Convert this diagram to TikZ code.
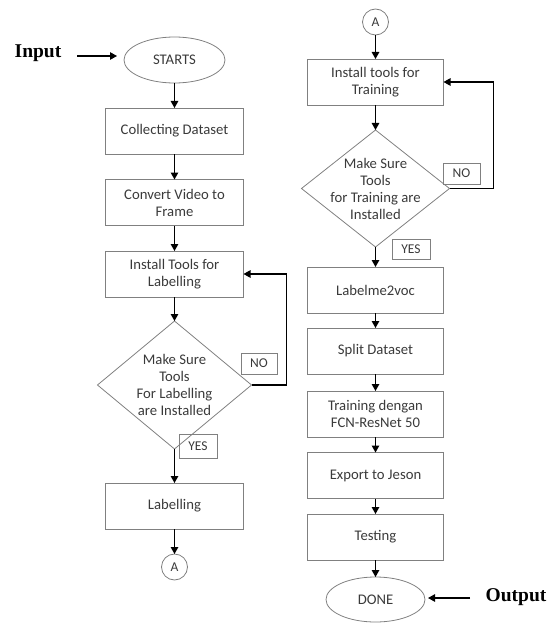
\documentclass[tikz,border=0pt]{standalone}
\usepackage{fontspec}
\setmainfont{Carlito}
\newfontfamily\serifbold{Liberation Serif}
\usetikzlibrary{shapes.geometric,arrows.meta}
\definecolor{txtgray}{HTML}{3A3A3A}
\begin{document}
\begin{tikzpicture}[x=1pt,y=-1pt,
  every node/.style={inner sep=0pt, outer sep=0pt},
  boxtext/.style={text=txtgray, align=center, font=\fontsize{14.7}{17}\selectfont},
  stepbox/.style={boxtext, draw=black!50, line width=0.8pt, minimum height=46pt},
  lbox/.style={stepbox, minimum width=138pt},
  rbox/.style={stepbox, minimum width=136pt},
  term/.style={boxtext, ellipse, draw=black!50, line width=0.8pt},
  decis/.style={diamond, draw=black!50, line width=0.8pt},
  tag/.style={text=txtgray, draw=black!50, line width=0.8pt, font=\fontsize{13.5}{15}\selectfont},
  conn/.style={circle, draw=black!50, line width=0.8pt, minimum size=26pt, text=txtgray, font=\fontsize{13.5}{15}\selectfont},
  side/.style={font=\serifbold\bfseries\fontsize{19.5}{22}\selectfont, text=black},
  arr/.style={draw=black, line width=1.2pt, -{Triangle[length=7pt,width=7.5pt]}}
]
\useasboundingbox (0,0) rectangle (548,623);

% ---------------- left column ----------------
\node[side] (input) at (38,53) {Input};
\coordinate (instart) at (77,56);
\coordinate (inend) at (117,56);
\node[term, minimum width=101pt, minimum height=46pt] (start) at (174.5,60) {STARTS};
\node[lbox] (collect) at (174.5,131) {Collecting Dataset};
\node[lbox] (convert) at (174.5,202.5) {Convert Video to\\Frame};
\node[lbox] (inst1) at (174.5,274) {Install Tools for\\Labelling};
\node[decis, minimum width=154pt, minimum height=128pt] (dia1) at (174.5,385) {};
\node[boxtext] (dia1t) at (174.5,385) {Make Sure\\Tools\\For Labelling\\are Installed};
\node[tag, minimum width=36pt, minimum height=21pt] (no1) at (259,363.5) {NO};
\node[tag, minimum width=38pt, minimum height=24pt] (yes1) at (198,446) {YES};
\node[lbox] (label) at (174.5,506) {Labelling};
\node[conn] (a1) at (174.5,567) {A};

\draw[arr] (instart) -- (inend);
\draw[arr] (start) -- (collect);
\draw[arr] (collect) -- (convert);
\draw[arr] (convert) -- (inst1);
\draw[arr] (inst1) -- (dia1);
\draw[arr] (dia1.east) -- ([xshift=35pt]dia1.east) |- (inst1.east);
\draw[arr] (dia1) -- (label);
\draw[arr] (label) -- (a1);

% ---------------- right column ----------------
\node[conn] (a2) at (375.5,22) {A};
\node[rbox] (inst2) at (375.5,82) {Install tools for\\Training};
\node[decis, minimum width=148pt, minimum height=117pt] (dia2) at (375.5,188.5) {};
\node[boxtext] (dia2t) at (375.5,188.5) {Make Sure\\Tools\\for Training are\\Installed};
\node[tag, minimum width=37pt, minimum height=21pt] (no2) at (461.5,173.5) {NO};
\node[tag, minimum width=38pt, minimum height=20pt] (yes2) at (411,249) {YES};
\node[rbox] (l2v) at (375.5,290) {Labelme2voc};
\node[rbox] (split) at (375.5,351) {Split Dataset};
\node[rbox] (train) at (375.5,414) {Training dengan\\FCN-ResNet 50};
\node[rbox] (export) at (375.5,475.5) {Export to Jeson};
\node[rbox] (test) at (375.5,537) {Testing};
\node[term, minimum width=99pt, minimum height=45pt] (done) at (375.5,599.5) {DONE};
\node[side] (output) at (516,597) {Output};
\coordinate (outstart) at (470,598);
\coordinate (outend) at (428,598);

\draw[arr] (a2) -- (inst2);
\draw[arr] (inst2) -- (dia2);
\draw[arr] (dia2.east) -- ([xshift=44pt]dia2.east) |- (inst2.east);
\draw[arr] (dia2) -- (l2v);
\draw[arr] (l2v) -- (split);
\draw[arr] (split) -- (train);
\draw[arr] (train) -- (export);
\draw[arr] (export) -- (test);
\draw[arr] (test) -- (done);
\draw[arr] (outstart) -- (outend);
\end{tikzpicture}
\end{document}
